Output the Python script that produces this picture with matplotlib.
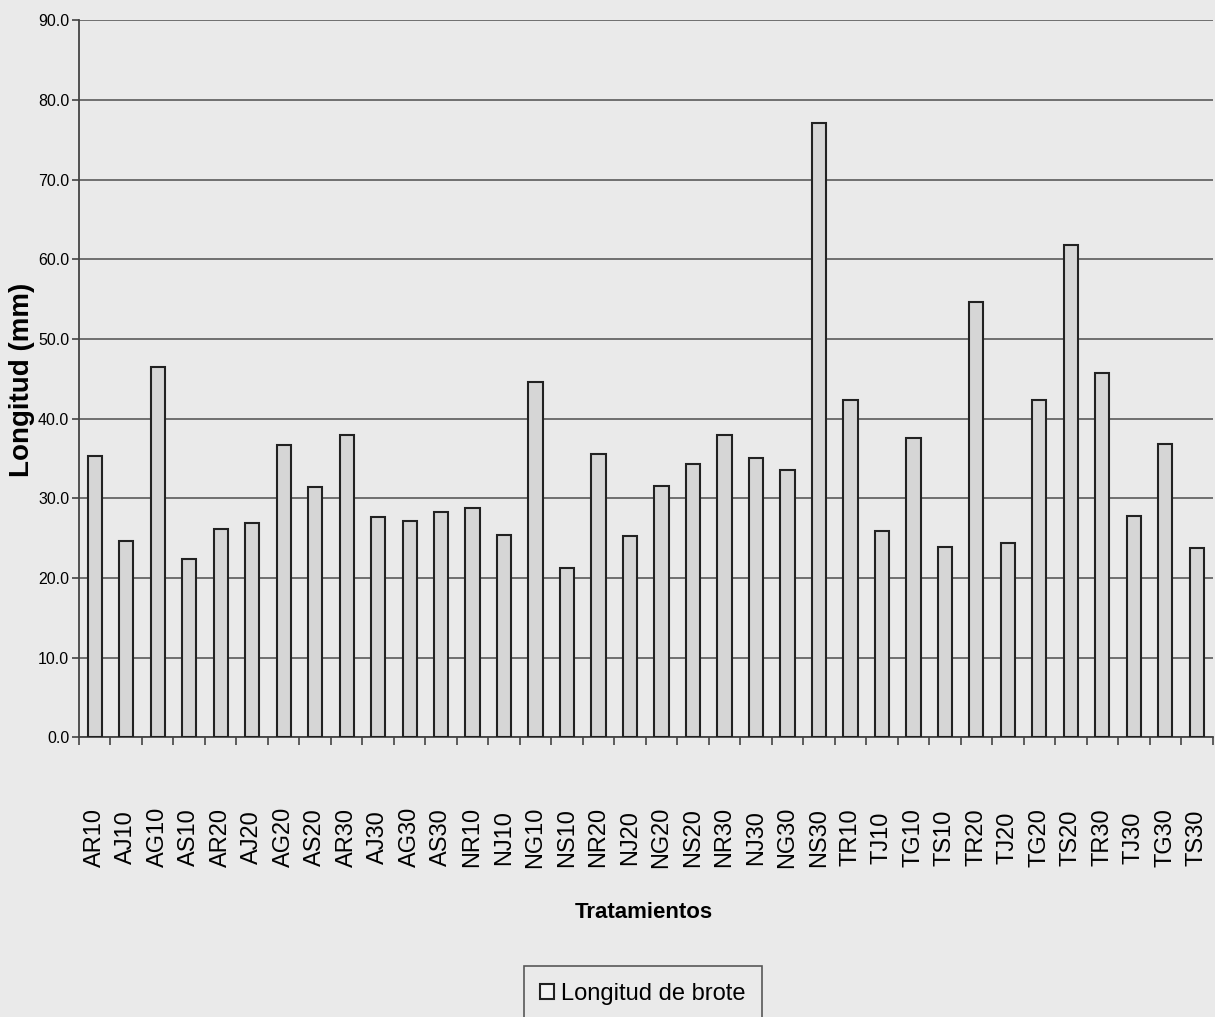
import numpy as np
import matplotlib.pyplot as plt

plt.rcParams['font.family'] = ['Liberation Sans', 'DejaVu Sans']

# tratamientos y longitud de brote (mm)
tratamientos = ['AR10', 'AJ10', 'AG10', 'AS10', 'AR20', 'AJ20', 'AG20', 'AS20', 'AR30',
                'AJ30', 'AG30', 'AS30', 'NR10', 'NJ10', 'NG10', 'NS10', 'NR20', 'NJ20',
                'NG20', 'NS20', 'NR30', 'NJ30', 'NG30', 'NS30', 'TR10', 'TJ10', 'TG10',
                'TS10', 'TR20', 'TJ20', 'TG20', 'TS20', 'TR30', 'TJ30', 'TG30', 'TS30']
longitud = [35.3, 24.7, 46.5, 22.4, 26.1, 26.9, 36.7, 31.4, 37.9,
            27.7, 27.1, 28.3, 28.8, 25.4, 44.6, 21.2, 35.6, 25.3,
            31.5, 34.3, 38.0, 35.0, 33.5, 77.1, 42.3, 25.9, 37.6,
            23.9, 54.7, 24.4, 42.4, 61.8, 45.7, 27.8, 36.8, 23.8]
yticks = np.arange(0, 91, 10)

bg = '#eaeaea'
fig = plt.figure(figsize=(12.15, 10.17), dpi=100, facecolor=bg)
ax = fig.add_axes([0.065, 0.275, 0.933, 0.705], facecolor=bg)

x = np.arange(len(tratamientos))
bars = ax.bar(x, longitud, width=0.45, color='#d6d6d6', edgecolor='#222222',
              linewidth=1.5, label='Longitud de brote', zorder=3)

ax.set_xlim(-0.5, len(tratamientos) - 0.5)
ax.set_ylim(0, 90)
ax.set_yticks(yticks)
ax.set_yticklabels(['%.1f' % v for v in yticks], fontsize=11.5)
ax.yaxis.grid(True, color='#5a5a5a', linewidth=1.2, zorder=0)

ax.set_xticks(x)
ax.set_xticklabels(tratamientos, rotation=90, fontsize=17, va='center')
ax.tick_params(axis='x', which='major', length=0, pad=72)
ax.set_xticks(np.arange(-0.5, len(tratamientos), 1), minor=True)
ax.tick_params(axis='x', which='minor', length=6, width=1.2, color='#444444', direction='out')
ax.tick_params(axis='y', length=5, width=1.2, color='#444444', pad=2)

for s in ['top', 'right']:
    ax.spines[s].set_visible(False)
for s in ['left', 'bottom']:
    ax.spines[s].set_color('#444444')
    ax.spines[s].set_linewidth(1.3)

fig.text(22 / 1215, 1 - 380 / 1017, 'Longitud (mm)', fontsize=20, fontweight='bold',
         rotation=90, ha='center', va='center')
fig.text(0.53, 1 - 913 / 1017, 'Tratamientos', fontsize=16, fontweight='bold',
         ha='center', va='center')

leg = fig.legend(handles=[bars], loc='upper center', bbox_to_anchor=(643 / 1215, 1 - 966 / 1017),
                 fontsize=17, frameon=True, fancybox=False, edgecolor='#333333',
                 facecolor=bg, handlelength=0.6, handleheight=0.6, handletextpad=0.3,
                 borderpad=0.7, borderaxespad=0)
leg.get_frame().set_linewidth(1.2)
leg.legend_handles[0].set_facecolor('#f4f4f4')

fig.savefig('out.png', dpi=100, facecolor=bg)
